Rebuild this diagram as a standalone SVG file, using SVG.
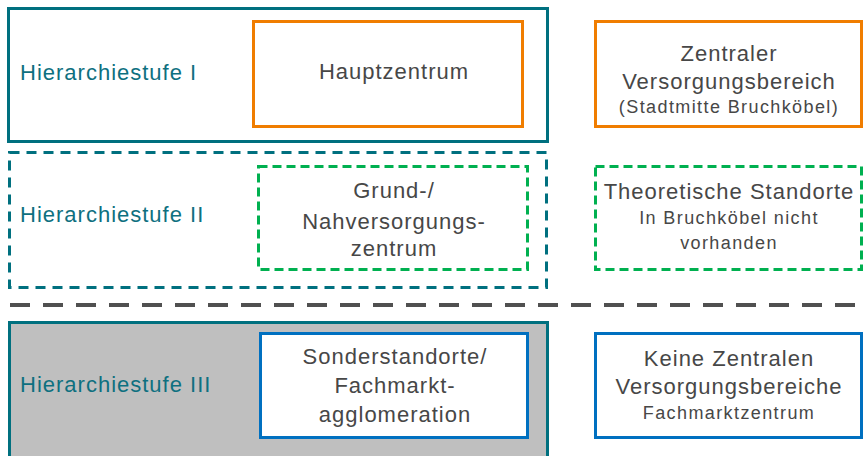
<svg xmlns="http://www.w3.org/2000/svg" width="863" height="456" viewBox="0 0 863 456">
<style>
text{font-family:"Liberation Sans","DejaVu Sans",sans-serif;}
.lvl{fill:#0E7080;font-size:22px;letter-spacing:1px;}
.t{fill:#474747;font-size:22px;letter-spacing:1px;text-anchor:middle;}
.s{fill:#474747;font-size:18px;letter-spacing:1.4px;text-anchor:middle;}
.teal{fill:none;stroke:#00707F;stroke-width:3;}
.orange{fill:#fff;stroke:#F07D00;stroke-width:3;}
.green{fill:#fff;stroke:#00B050;stroke-width:3;stroke-dasharray:9 5;}
.blue{fill:#fff;stroke:#0070C0;stroke-width:3;}
</style>
<rect width="863" height="456" fill="#fff"/>
<g id="stufe1">
<rect class="teal" x="8.5" y="8.5" width="539" height="133"/>
<text class="lvl" x="20" y="80">Hierarchiestufe I</text>
</g>
<g id="hauptzentrum">
<rect class="orange" x="253.5" y="21.5" width="269" height="105"/>
<text class="t" x="394" y="79">Hauptzentrum</text>
</g>
<g id="zvb">
<rect class="orange" x="595.5" y="21.5" width="266" height="105"/>
<text class="t" x="729" y="61">Zentraler</text>
<text class="t" x="729" y="89">Versorgungsbereich</text>
<text class="s" x="729" y="113">(Stadtmitte Bruchköbel)</text>
</g>
<g id="stufe2">
<rect class="teal" x="9.5" y="152.5" width="537" height="135" stroke-dasharray="10 7"/>
<text class="lvl" x="20" y="222">Hierarchiestufe II</text>
</g>
<g id="grundversorgung">
<rect class="green" x="258.5" y="166.5" width="269" height="103"/>
<text class="t" x="394" y="198">Grund-/</text>
<text class="t" x="394" y="229">Nahversorgungs-</text>
<text class="t" x="394" y="256">zentrum</text>
</g>
<g id="theoretisch">
<rect class="green" x="595.5" y="166.5" width="266" height="103"/>
<text class="t" x="729" y="199">Theoretische Standorte</text>
<text class="s" x="729" y="224">In Bruchköbel nicht</text>
<text class="s" x="729" y="249">vorhanden</text>
</g>
<g id="connectors">
<line x1="10" y1="305" x2="863" y2="305" stroke="#505050" stroke-width="4" stroke-dasharray="20 13"/>
</g>
<g id="stufe3">
<rect x="9.5" y="322.5" width="538" height="140" fill="#BFBFBF" stroke="#00707F" stroke-width="3"/>
<text class="lvl" x="20" y="392">Hierarchiestufe III</text>
</g>
<g id="sonderstandorte">
<rect class="blue" x="260.5" y="333.5" width="267" height="104"/>
<text class="t" x="395" y="364">Sonderstandorte/</text>
<text class="t" x="395" y="393">Fachmarkt-</text>
<text class="t" x="395" y="422">agglomeration</text>
</g>
<g id="keinezvb">
<rect class="blue" x="595.5" y="333.5" width="266" height="104"/>
<text class="t" x="729" y="366">Keine Zentralen</text>
<text class="t" x="729" y="394">Versorgungsbereiche</text>
<text class="s" x="729" y="419">Fachmarktzentrum</text>
</g>
</svg>
